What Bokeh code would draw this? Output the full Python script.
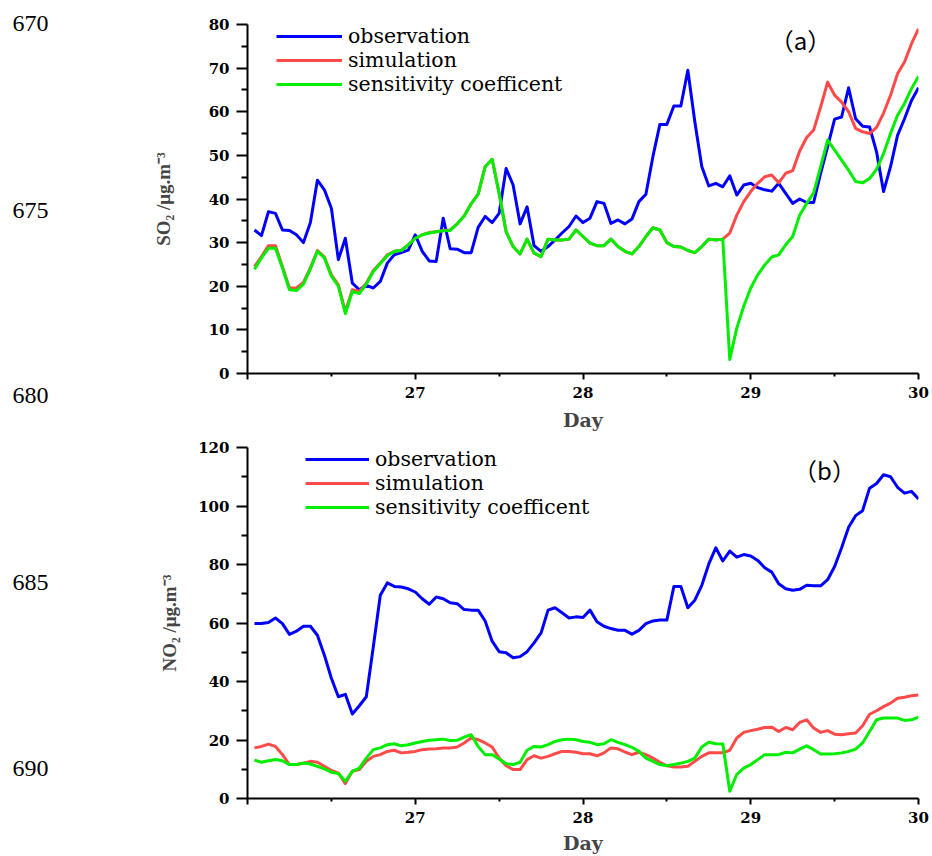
from bokeh.plotting import figure
from bokeh.models import Range1d, FixedTicker, Legend, LegendItem, Label
from bokeh.layouts import column, row
from bokeh.embed import file_html
from bokeh.resources import INLINE

# ---------------- data (hourly, 26th 01h .. 30th 00h) ----------------
hours = list(range(1, 97))
days = [26 + h / 24 for h in hours]

so2_obs = [32.9, 31.6, 37.1, 36.7, 32.9, 32.8, 31.8, 30.0, 34.6, 44.3,
           42.1, 37.9, 26.1, 31.0, 20.7, 19.2, 20.2, 19.6, 21.1, 25.3,
           27.2, 27.7, 28.3, 31.8, 28.0, 25.8, 25.7, 35.6, 28.6, 28.5,
           27.7, 27.7, 33.5, 36.0, 34.6, 36.7, 47.0, 43.2, 34.3, 38.2,
           29.3, 28.0, 29.1, 30.6, 32.2, 33.7, 36.1, 34.6, 35.6, 39.4,
           39.0, 34.4, 35.2, 34.3, 35.4, 39.4, 41.1, 49.7, 57.1, 57.1,
           61.3, 61.3, 69.5, 57.7, 47.4, 43.0, 43.6, 42.8, 45.3, 40.9,
           43.2, 43.6, 42.6, 42.1, 41.8, 43.6, 41.3, 39.0, 40.0, 39.2,
           39.2, 45.9, 52.0, 58.3, 58.8, 65.5, 58.4, 56.7, 56.5, 50.8,
           41.7, 47.4, 54.6, 58.4, 62.6, 65.5]
so2_sim = [24.5, 26.8, 29.3, 29.3, 24.5, 19.6, 19.6, 20.9, 24.2, 28.2,
           26.7, 22.6, 20.3, 14.2, 19.2, 18.8, 20.7, 23.6, 25.3, 27.2,
           28.0, 28.2, 29.5, 31.0, 31.8, 32.3, 32.5, 32.8, 32.9, 34.3,
           36.1, 38.9, 41.1, 47.4, 49.1, 41.3, 32.5, 29.1, 27.4, 30.8,
           27.6, 26.8, 30.8, 30.6, 30.6, 30.8, 32.9, 31.4, 29.9, 29.3,
           29.3, 30.8, 29.1, 28.0, 27.4, 29.1, 31.4, 33.4, 32.9, 30.0,
           29.1, 29.0, 28.2, 27.7, 29.1, 30.8, 30.6, 30.8, 32.2, 36.3,
           39.4, 41.7, 43.6, 45.1, 45.5, 43.7, 45.9, 46.5, 51.0, 54.1,
           55.8, 61.1, 66.8, 63.8, 62.2, 60.0, 56.2, 55.4, 55.0, 56.4,
           59.7, 63.8, 68.7, 71.4, 75.6, 79.0]
so2_sens = [23.9, 26.5, 28.7, 28.7, 24.2, 19.2, 19.0, 20.5, 24.0, 28.0,
            26.5, 22.3, 20.0, 13.7, 18.8, 18.3, 20.5, 23.4, 25.2, 27.0,
            28.0, 28.2, 29.5, 31.0, 31.8, 32.2, 32.5, 32.7, 32.8, 34.3,
            36.1, 38.9, 41.1, 47.4, 49.1, 41.3, 32.5, 29.1, 27.4, 30.8,
            27.6, 26.8, 30.8, 30.6, 30.6, 30.8, 32.9, 31.4, 29.9, 29.3,
            29.3, 30.8, 29.1, 28.0, 27.4, 29.1, 31.4, 33.4, 32.9, 30.0,
            29.1, 29.0, 28.2, 27.7, 29.1, 30.8, 30.6, 30.8, 3.2, 10.4,
            15.4, 19.6, 22.6, 24.9, 26.7, 27.2, 29.5, 31.4, 36.3, 39.0,
            41.4, 47.4, 53.5, 51.2, 48.9, 46.6, 44.0, 43.7, 44.7, 46.8,
            50.4, 55.0, 59.2, 61.9, 65.3, 68.1]

no2_obs = [59.8, 59.8, 60.2, 61.7, 59.8, 56.1, 57.2, 58.9, 58.9, 55.8,
           49.0, 41.1, 34.8, 35.6, 28.9, 31.7, 34.8, 51.9, 69.5, 73.7,
           72.5, 72.3, 71.7, 70.6, 68.3, 66.4, 68.9, 68.3, 66.9, 66.6,
           64.6, 64.4, 64.4, 60.7, 53.8, 50.2, 49.8, 48.1, 48.5, 50.2,
           53.2, 56.6, 64.4, 65.2, 63.5, 61.7, 62.1, 61.9, 64.4, 60.4,
           58.9, 58.1, 57.5, 57.5, 56.2, 57.5, 59.8, 60.7, 61.0, 61.0,
           72.5, 72.5, 65.2, 67.8, 72.9, 80.2, 85.7, 81.2, 84.6, 82.5,
           83.4, 82.9, 81.4, 78.9, 77.4, 73.4, 71.7, 71.2, 71.5, 72.9,
           72.7, 72.7, 74.8, 79.3, 85.7, 92.7, 96.7, 98.4, 106.1, 107.7,
           110.7, 110.0, 106.4, 104.4, 105.0, 102.4]
no2_sim = [17.3, 17.8, 18.6, 17.8, 15.0, 11.6, 11.6, 12.1, 12.7, 12.4,
           11.0, 9.6, 8.7, 5.1, 9.3, 9.9, 12.7, 14.4, 15.0, 16.1,
           16.5, 15.6, 15.8, 16.1, 16.7, 16.9, 17.0, 17.3, 17.3, 17.6,
           19.0, 20.7, 20.1, 19.0, 17.6, 13.8, 11.2, 9.9, 9.9, 13.3,
           14.6, 13.8, 14.4, 15.3, 16.1, 16.1, 15.8, 15.3, 15.3, 14.6,
           15.6, 17.3, 17.0, 15.9, 15.0, 15.8, 15.0, 13.8, 12.4, 11.2,
           10.8, 10.8, 11.0, 12.7, 14.4, 15.6, 15.6, 15.6, 16.5, 20.7,
           22.6, 23.2, 23.7, 24.3, 24.4, 22.9, 24.3, 23.5, 26.0, 26.9,
           24.1, 22.6, 23.2, 22.0, 21.8, 22.1, 22.4, 24.9, 28.8, 30.0,
           31.4, 32.6, 34.3, 34.6, 35.1, 35.4]
no2_sens = [13.1, 12.4, 12.9, 13.3, 12.9, 11.6, 11.6, 12.1, 11.8, 11.0,
            10.1, 9.0, 8.5, 5.9, 9.3, 10.4, 13.8, 16.7, 17.3, 18.4,
            18.7, 18.0, 18.4, 19.0, 19.5, 19.9, 20.1, 20.3, 19.8, 19.9,
            21.0, 21.8, 17.8, 15.0, 15.0, 13.5, 11.9, 11.6, 12.4, 16.5,
            17.8, 17.6, 18.4, 19.5, 20.1, 20.3, 20.1, 19.5, 19.2, 18.4,
            18.7, 20.1, 19.2, 18.4, 17.5, 16.1, 13.8, 12.7, 11.6, 11.2,
            11.6, 12.1, 12.7, 13.8, 17.6, 19.2, 18.7, 18.6, 2.5, 8.2,
            10.4, 11.6, 13.3, 15.0, 15.0, 15.0, 15.8, 15.6, 16.9, 18.0,
            16.7, 15.2, 15.2, 15.3, 15.6, 16.1, 16.9, 19.0, 22.9, 26.9,
            27.5, 27.5, 27.5, 26.7, 26.9, 27.8]

series_names = ["observation", "simulation", "sensitivity coefficent"]
series_colors = ["#0000ff", "#ff4a4a", "#00ee00"]

x_ticks = [26, 27, 28, 29, 30]
x_minor = [26.5, 27.5, 28.5, 29.5]
so2_ticks = [0, 10, 20, 30, 40, 50, 60, 70, 80]
so2_minor = [5, 15, 25, 35, 45, 55, 65, 75]
no2_ticks = [0, 20, 40, 60, 80, 100, 120]
no2_minor = [10, 30, 50, 70, 90, 110]

# document line numbers in the left margin (page y positions)
line_numbers = ["670", "675", "680", "685", "690"]
line_number_y = [23, 210, 395, 582, 768]

TICK_FONT = "DejaVu Serif"
LEG_FONT = "DejaVu Serif"
LAB_FONT = "Liberation Serif"

TOTAL_H = 856
LEFT_W = 60
MAIN_W = 872
FRAME_L = 247   # page x of the frames' left edge
FRAME_R = 918   # page x of the frames' right edge


def make_panel(height, b_top, b_bottom, ymax, yticks, yminor,
               ylabel, ylabel_standoff, series, tag, tag_xy, leg_x, leg_ys, leg_glyph_w,
               xlab_standoff):
    p = figure(width=MAIN_W, height=height, x_range=Range1d(26, 30), y_range=Range1d(0, ymax),
               output_backend="svg", toolbar_location=None,
               min_border_left=FRAME_L - LEFT_W, min_border_right=LEFT_W + MAIN_W - FRAME_R,
               min_border_top=b_top, min_border_bottom=b_bottom)
    p.xgrid.visible = False
    p.ygrid.visible = False
    p.outline_line_color = None
    p.background_fill_color = "white"
    p.border_fill_color = "white"

    xa = p.xaxis[0]
    xa.ticker = FixedTicker(ticks=x_ticks, minor_ticks=x_minor)
    xa.major_label_overrides = {26: ""}
    ya = p.yaxis[0]
    ya.ticker = FixedTicker(ticks=yticks, minor_ticks=yminor)
    for ax in (xa, ya):
        ax.axis_line_width = 2
        ax.axis_line_color = "black"
        ax.major_tick_line_width = 2
        ax.minor_tick_line_width = 2
        ax.major_tick_in = 0
        ax.minor_tick_in = 0
        ax.major_label_text_font = TICK_FONT
        ax.major_label_text_font_style = "bold"
        ax.major_label_text_font_size = "15px"
        ax.major_label_text_color = "black"
    xa.major_tick_out = 6
    xa.minor_tick_out = 3
    xa.major_label_standoff = 7
    xa.axis_label = "Day"
    xa.axis_label_text_font = TICK_FONT
    xa.axis_label_text_font_style = "bold"
    xa.axis_label_text_font_size = "19px"
    xa.axis_label_standoff = xlab_standoff
    ya.major_tick_out = 11
    ya.minor_tick_out = 6
    ya.major_label_standoff = 7
    ya.axis_label = ylabel
    ya.axis_label_text_font = LAB_FONT
    ya.axis_label_text_font_style = "bold"
    ya.axis_label_text_font_size = "19px"
    ya.axis_label_standoff = ylabel_standoff

    for name, color, vals, ly in zip(series_names, series_colors, series, leg_ys):
        r = p.line(days, vals, line_color=color, line_width=3, line_join="round")
        leg = Legend(items=[LegendItem(label=name, renderers=[r])], location=(leg_x, ly),
                     glyph_width=leg_glyph_w, glyph_height=22, label_height=22,
                     spacing=0, label_standoff=6, padding=0, margin=0,
                     border_line_color=None, background_fill_alpha=0,
                     label_text_font=LEG_FONT, label_text_font_size="20.5px",
                     label_text_color="black")
        p.add_layout(leg)

    p.add_layout(Label(x=tag_xy[0], y=tag_xy[1], x_units="screen", y_units="screen",
                       text=tag, text_align="center", text_baseline="middle",
                       text_font="Noto Sans CJK SC",
                       text_font_size="24px", text_color="black"))
    return p


# left strip with the page's line numbers
side = figure(width=LEFT_W, height=TOTAL_H, x_axis_location=None, y_axis_location=None,
              output_backend="svg", toolbar_location=None, min_border=0,
              x_range=Range1d(0, LEFT_W), y_range=Range1d(0, TOTAL_H))
side.xgrid.visible = False
side.ygrid.visible = False
side.outline_line_color = None
for num, py in zip(line_numbers, line_number_y):
    side.add_layout(Label(x=12, y=TOTAL_H - py, x_units="screen", y_units="screen",
                          text=num, text_align="left", text_baseline="middle",
                          text_font=LAB_FONT, text_font_size="24px", text_color="black"))

fig_a = make_panel(433, 24, 59, 80, so2_ticks, so2_minor,
                   "SO\u2082 /\u03bcg.m\u207b\u00b3", 32,
                   [so2_obs, so2_sim, so2_sens], "\uff08a\uff09", (553, 334),
                   29, [325, 301, 277], 66, 8)
fig_b = make_panel(TOTAL_H - 433, 14, 57, 120, no2_ticks, no2_minor,
                   "NO\u2082 /\u03bcg.m\u207b\u00b3", 15,
                   [no2_obs, no2_sim, no2_sens], "\uff08b\uff09", (577, 329),
                   58, [327, 303, 279], 64, 6)

layout = row(side, column(fig_a, fig_b, spacing=0), spacing=0)
open("out.html", "w").write(file_html(layout, INLINE))
